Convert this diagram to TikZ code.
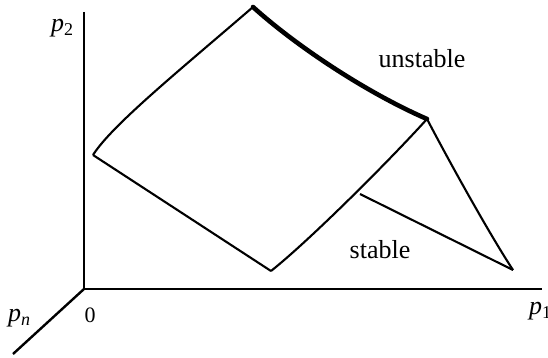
\documentclass[tikz,border=0pt]{standalone}
\usepackage{fontspec}
\setmainfont{Liberation Serif}
\newcommand{\subfont}{\fontsize{18}{18}\selectfont}
\begin{document}
\begin{tikzpicture}[x=1pt,y=-1pt,
  axis/.style={line width=2.4pt},
  edge/.style={line width=2.1pt, line join=round},
  bold/.style={line width=4.6pt, line cap=round},
  lbl/.style={inner sep=0pt, font=\fontsize{26}{26}\selectfont},
  plab/.style={inner sep=0pt, anchor=base west, font=\fontsize{26}{26}\selectfont}]
\useasboundingbox (0,0) rectangle (548,358);
% axes
\coordinate (O) at (84,289);
\coordinate (ytop) at (84,12);
\coordinate (xend) at (542,289);
\coordinate (zend) at (13,354);
\draw[axis] (ytop) -- (O) -- (xend);
\draw[axis] (O) -- (zend);
% vertices
\coordinate (L) at (93,155);
\coordinate (T) at (253,7);
\coordinate (R) at (427,119);
\coordinate (B) at (271,271);
\coordinate (M) at (360,194);
\coordinate (F) at (513,270);
% surface edges
\draw[edge] (L) .. controls (112,125) and (180,70) .. (T);
\draw[bold] (T) .. controls (295,45) and (365,92) .. (R);
\draw[edge] (L) -- (B);
\draw[edge] (B) .. controls (310,240) and (390,160) .. (R);
\draw[edge] (R) .. controls (450,163) and (490,235) .. (F);
\draw[edge] (M) -- (F);
% labels
\node[lbl] (unst) at (422,59) {unstable};
\node[lbl] (stab) at (380,250) {stable};
\node[plab] (p2) at (51,31.5) {\itshape p\raisebox{-4pt}{\subfont\upshape 2}};
\node[plab] (pn) at (8,321.5) {\itshape p\raisebox{-3.5pt}{\subfont n}};
\node[plab] (p1) at (529,314.5) {\itshape p\raisebox{-4pt}{\subfont\upshape 1}};
\node[inner sep=0pt, anchor=base west, font=\fontsize{22}{22}\selectfont] (zero) at (84.5,322) {0};
\end{tikzpicture}
\end{document}
